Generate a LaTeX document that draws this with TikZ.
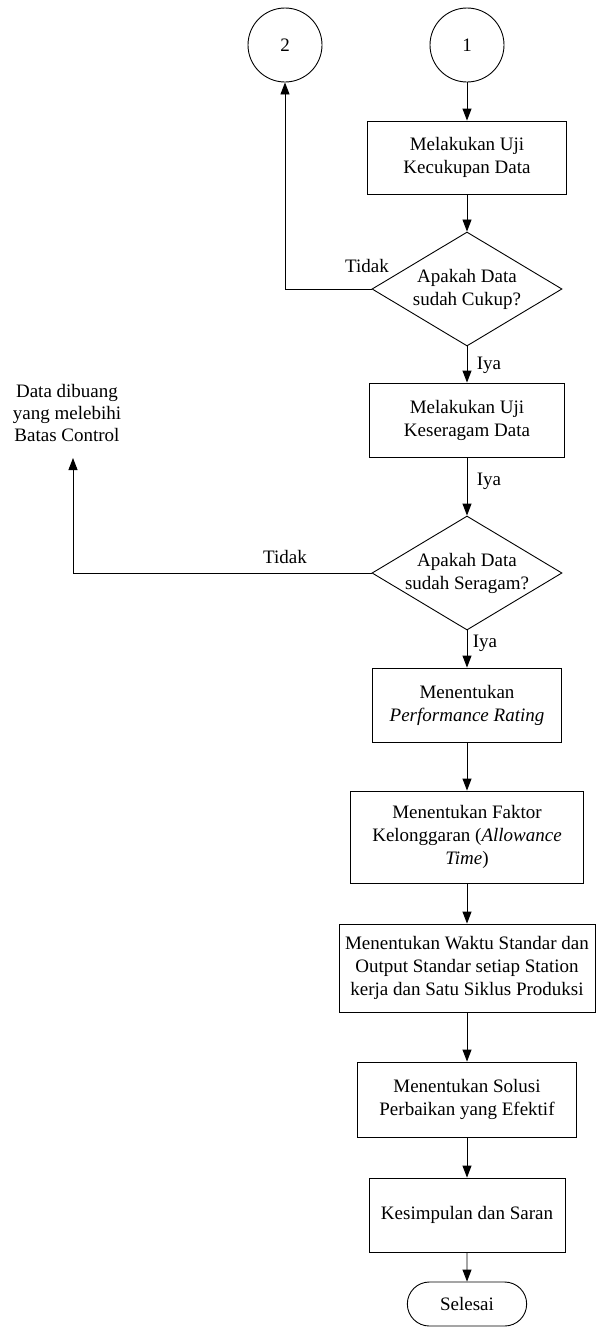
\documentclass[tikz,border=0pt]{standalone}
\usepackage{fontspec}
\setmainfont{Liberation Serif}
\newfontfamily\flowfont{Liberation Serif}
\usetikzlibrary{shapes.geometric,shapes.misc,arrows.meta}
\begin{document}
\begin{tikzpicture}[x=1pt, y=-1pt, line width=0.9pt,
    every node/.style={font=\flowfont\fontsize{19}{23}\selectfont},
    connector/.style={circle, draw, minimum size=74pt, inner sep=0pt},
    process/.style={rectangle, draw, align=center, minimum height=74pt, inner sep=3pt},
    decision/.style={diamond, draw, minimum width=190pt, minimum height=114pt, inner sep=0pt},
    terminator/.style={rounded rectangle, draw, minimum width=126pt, minimum height=44pt},
    line/.style={draw, -{Triangle[length=12pt,width=9pt]}}]
   \useasboundingbox (0,0) rectangle (595,1328);

   \node[connector] (C2) at (285,45) {2};
   \node[connector] (C1) at (467,45) {1};
   \node[process, minimum width=199pt, minimum height=73pt] (B1) at (467,157.5) {Melakukan Uji\\Kecukupan Data};
   \node[decision] (D1) at (467,289) {};
   \node[align=center] (T1) at (D1) {Apakah Data\\sudah Cukup?};
   \node[process, minimum width=195pt] (B2) at (467,420) {Melakukan Uji\\Keseragam Data};
   \node[decision] (D2) at (467,573) {};
   \node[align=center] (T2) at (D2) {Apakah Data\\sudah Seragam?};
   \node[process, minimum width=189pt] (B3) at (467,705) {Menentukan\\\textit{Performance Rating}};
   \node[process, minimum width=233pt, minimum height=92pt] (B4) at (467,837) {Menentukan Faktor\\Kelonggaran (\textit{Allowance}\\\textit{Time})};
   \node[process, minimum width=256pt, minimum height=88pt] (B5) at (467,968) {Menentukan Waktu Standar dan\\Output Standar setiap Station\\kerja dan Satu Siklus Produksi};
   \node[process, minimum width=219pt, minimum height=75pt] (B6) at (467,1099.5) {Menentukan Solusi\\Perbaikan yang Efektif};
   \node[process, minimum width=196pt] (B7) at (467,1215) {Kesimpulan dan Saran};
   \node[terminator] (E) at (467,1304) {Selesai};

   \node[align=center, font=\flowfont\fontsize{19}{22}\selectfont] (Buang) at (67,413) {Data dibuang\\yang melebihi\\Batas Control};
   \coordinate (BuangIn) at (73,458);

   \node (No1) at (367,266) {Tidak};
   \node (No2) at (285,557) {Tidak};
   \node[anchor=west] (Yes1) at (473,365) {Iya};
   \node[anchor=west] (Yes2) at (473,481) {Iya};
   \node[anchor=west] (Yes3) at (469,643) {Iya};

   \draw[line] (C1) -- (B1);
   \draw[line] (B1) -- (D1);
   \draw[line] (D1.west) -| (C2.south);
   \draw[line] (D1) -- (B2);
   \draw[line] (B2) -- (D2);
   \draw[line] (D2.west) -| (BuangIn);
   \draw[line] (D2) -- (B3);
   \draw[line] (B3) -- (B4);
   \draw[line] (B4) -- (B5);
   \draw[line] (B5) -- (B6);
   \draw[line] (B6) -- (B7);
   \draw[line] (B7) -- (E);

\end{tikzpicture}
\end{document}
